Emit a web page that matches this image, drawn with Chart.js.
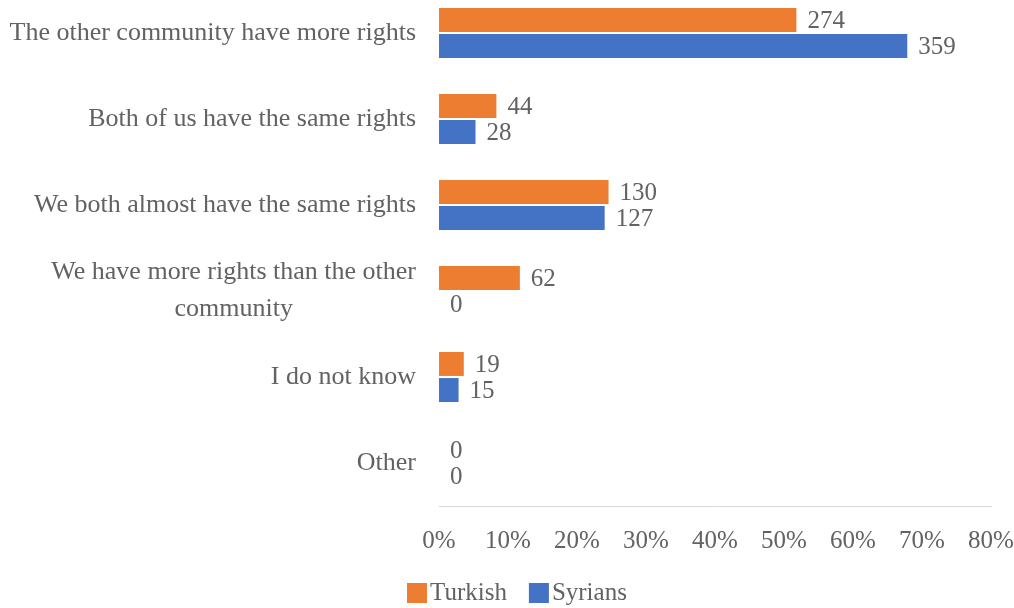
<!DOCTYPE html>
<html>
<head>
<meta charset="utf-8">
<script src="https://cdn.jsdelivr.net/npm/chart.js@4/dist/chart.umd.min.js"></script>
<style>
  html, body { margin: 0; padding: 0; background: #ffffff; overflow: hidden; }
  #wrap { position: absolute; left: 0; top: -10px; width: 1014px; height: 618px; }
</style>
</head>
<body>
<div id="wrap"><canvas id="c" width="1014" height="618"></canvas></div>
<script>
// Survey answers: which community has more rights?
const categories = [
  'The other community have more rights',
  'Both of us have the same rights',
  'We both almost have the same rights',
  ['We have more rights than the other', 'community'],
  'I do not know',
  'Other'
];
const seriesNames = ['Turkish', 'Syrians'];
const turkishCounts = [274, 44, 130, 62, 19, 0];
const syrianCounts = [359, 28, 127, 0, 15, 0];
const xTicks = [0, 10, 20, 30, 40, 50, 60, 70, 80];

const colors = ['#ED7D31', '#4472C4'];
const textColor = '#626262';
const fontFamily = '"Liberation Serif", "Times New Roman", serif';

// bar length = share of each group's respondents, in percent
const toPercent = counts => {
  const total = counts.reduce((a, b) => a + b, 0);
  return counts.map(c => c / total * 100);
};
const countsBySeries = [turkishCounts, syrianCounts];

// count labels at the end of every bar
const valueLabels = {
  id: 'valueLabels',
  afterDatasetsDraw(chart) {
    const ctx = chart.ctx;
    ctx.save();
    ctx.font = '25px ' + fontFamily;
    ctx.fillStyle = textColor;
    ctx.textAlign = 'left';
    ctx.textBaseline = 'middle';
    chart.data.datasets.forEach((ds, di) => {
      const meta = chart.getDatasetMeta(di);
      meta.data.forEach((bar, i) => {
        ctx.fillText(String(countsBySeries[di][i]), bar.x + 11, bar.y + 1);
      });
    });
    ctx.restore();
  }
};

// category names, right-aligned blocks with centred lines
const categoryLabels = {
  id: 'categoryLabels',
  afterDraw(chart) {
    const ctx = chart.ctx;
    const yScale = chart.scales.y;
    const right = chart.chartArea.left - 23;
    const lineH = 37;
    ctx.save();
    ctx.font = '26px ' + fontFamily;
    ctx.fillStyle = textColor;
    ctx.textAlign = 'center';
    ctx.textBaseline = 'middle';
    categories.forEach((cat, i) => {
      const lines = Array.isArray(cat) ? cat : [cat];
      const w = Math.max(...lines.map(l => ctx.measureText(l).width));
      const cx = right - w / 2;
      const cy = yScale.getPixelForTick(i);
      lines.forEach((l, k) => {
        ctx.fillText(l, cx, cy + (k - (lines.length - 1) / 2) * lineH);
      });
    });
    ctx.restore();
  }
};

// legend row under the axis
const legendRow = {
  id: 'legendRow',
  afterDraw(chart) {
    const ctx = chart.ctx;
    ctx.save();
    ctx.font = '25px ' + fontFamily;
    ctx.textBaseline = 'middle';
    ctx.textAlign = 'left';
    let x = 407;
    const y = 603;
    chart.data.datasets.forEach(ds => {
      ctx.fillStyle = ds.backgroundColor;
      ctx.fillRect(x, y - 10, 20, 20);
      x += 23;
      ctx.fillStyle = textColor;
      ctx.fillText(ds.label, x, y);
      x += ctx.measureText(ds.label).width + 22;
    });
    ctx.restore();
  }
};

new Chart(document.getElementById('c'), {
  type: 'bar',
  data: {
    labels: categories,
    datasets: seriesNames.map((name, k) => ({
      label: name,
      data: toPercent(countsBySeries[k]),
      backgroundColor: colors[k],
      borderWidth: 0,
      categoryPercentage: 0.605,
      barPercentage: 0.92
    }))
  },
  options: {
    indexAxis: 'y',
    responsive: false,
    devicePixelRatio: 1,
    animation: false,
    layout: { padding: { top: 0, right: 23, bottom: 52, left: 0 } },
    plugins: {
      legend: { display: false },
      tooltip: { enabled: false }
    },
    scales: {
      y: {
        grid: { display: false, drawTicks: false },
        border: { display: false },
        ticks: { display: false },
        afterFit(scale) { scale.width = 439; }
      },
      x: {
        min: 0,
        max: 80,
        afterBuildTicks(scale) { scale.ticks = xTicks.map(v => ({ value: v })); },
        grid: { display: false, drawTicks: false },
        border: { display: true, color: '#D9D9D9', width: 1 },
        ticks: {
          padding: 20,
          color: textColor,
          font: { family: fontFamily, size: 25 },
          maxRotation: 0,
          autoSkip: false,
          callback: v => v + '%'
        },
        afterFit(scale) {
          scale.height = 50;
          scale.paddingLeft = 0;
          scale.paddingRight = 0;
        }
      }
    }
  },
  plugins: [valueLabels, categoryLabels, legendRow]
});
</script>
</body>
</html>
